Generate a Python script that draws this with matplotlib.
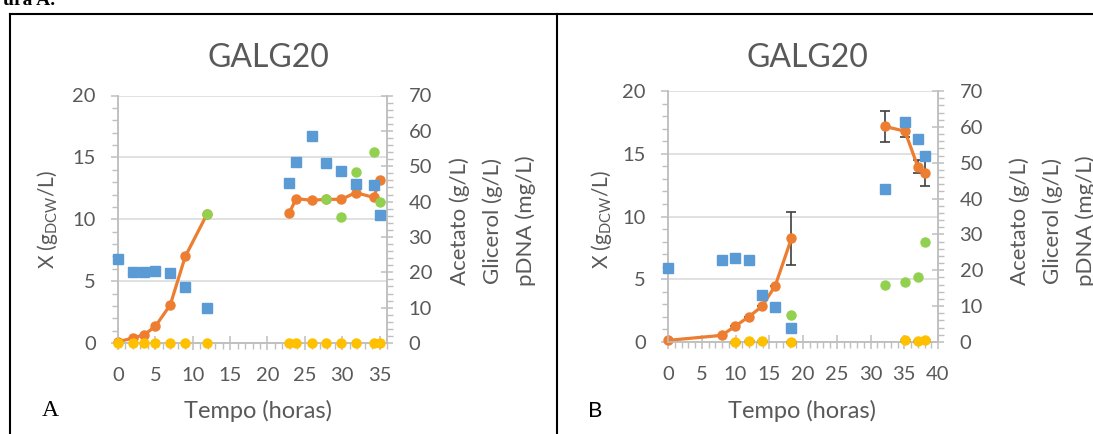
import matplotlib.pyplot as plt
from matplotlib.lines import Line2D
from matplotlib.ticker import MultipleLocator

# painel A
a_tempo = [0, 2.0, 3.5, 5.0, 7.0, 9.0, 11.9, 22.9, 23.85, 25.9, 27.8, 29.9, 31.8, 34.2, 35.1]
a_x = [0.1, 0.4, 0.67, 1.34, 3.09, 6.99, 10.4, 10.48, 11.67, 11.53, 11.61, 11.61, 12.15, 11.77, 13.2]
a_glicerol = [23.7, 20.0, 20.2, 20.5, 19.8, 15.8, 9.8, 45.3, 51.1, 58.5, 51.0, 48.6, 45.0, 44.6, 36.1]
a_acetato = [0, 0, 0, 0, 0, 0, 0, 0, 0, 0, 0, 0, 0, 0, 0]
a_pdna_t = [11.9, 27.8, 29.9, 31.8, 34.2, 35.1]
a_pdna = [36.4, 40.6, 35.5, 48.4, 53.9, 39.9]

# painel B
b_tempo = [0, 7.96, 9.92, 11.94, 13.95, 15.9, 18.29, 32.1, 35.1, 37.0, 38.0]
b_x = [0.13, 0.53, 1.25, 2.0, 2.85, 4.5, 8.26, 17.18, 16.8, 13.98, 13.5]
b_x_err = [0, 0, 0, 0, 0, 0, 2.1, 1.22, 0.5, 0.55, 1.07]
b_glicerol = [20.5, 22.8, 23.3, 22.8, 13.2, 9.9, 3.8, 42.7, 61.3, 56.5, 52.0]
b_acet_t = [9.92, 11.94, 13.95, 18.29, 35.1, 37.0, 38.0]
b_acetato = [0, 0.2, 0.2, 0, 0.56, 0.19, 0.65]
b_pdna_t = [18.29, 32.1, 35.1, 37.0, 38.0]
b_pdna = [7.46, 16.0, 16.6, 18.0, 27.9]

FONT = 'Lato'
GREY = '#595959'
AXC = '#bfbfbf'
BLUE = '#5b9bd5'
ORANGE = '#ed7d31'
GREEN = '#92d050'
GOLD = '#ffc000'
TICK_FS = 14.5

W, H = 1093, 434
plt.rcParams['font.family'] = FONT
fig = plt.figure(figsize=(W / 100, H / 100), dpi=100)


def px(x, y):
    return x / W, 1 - y / H


def style_axes(ax, ax2, xmax):
    ax.set_xlim(0, xmax)
    ax.set_ylim(0, 20)
    ax2.set_ylim(0, 70)
    ax.xaxis.set_major_locator(MultipleLocator(5))
    ax.xaxis.set_minor_locator(MultipleLocator(1))
    ax.yaxis.set_major_locator(MultipleLocator(5))
    ax.yaxis.set_minor_locator(MultipleLocator(1))
    ax2.yaxis.set_major_locator(MultipleLocator(10))
    ax2.yaxis.set_minor_locator(MultipleLocator(2))
    for a in (ax, ax2):
        for s in a.spines.values():
            s.set_color(AXC)
            s.set_linewidth(1.1)
        a.spines['top'].set_visible(False)
    ax.grid(axis='y', color='#d9d9d9', lw=1.1)
    ax.set_axisbelow(True)
    ax.tick_params(axis='x', which='major', direction='inout', length=10, width=1.1,
                   color=AXC, labelcolor=GREY, labelsize=TICK_FS, pad=12)
    ax.tick_params(axis='x', which='minor', direction='out', length=4, width=1.0, color=AXC)
    ax.tick_params(axis='y', which='major', direction='out', length=5, width=1.1,
                   color=AXC, labelcolor=GREY, labelsize=TICK_FS, pad=11)
    ax.tick_params(axis='y', which='minor', direction='out', length=4, width=1.0, color=AXC)
    ax2.tick_params(axis='y', which='major', direction='inout', length=9, width=1.1,
                    color=AXC, labelcolor=GREY, labelsize=TICK_FS, pad=11)
    ax2.tick_params(axis='y', which='minor', direction='out', length=4, width=1.0, color=AXC)


# ---------- A ----------
axA = fig.add_axes([118 / W, 1 - 343 / H, 269 / W, (343 - 95.5) / H])
axA2 = axA.twinx()
style_axes(axA, axA2, 36)
axA.plot(a_tempo[:7], a_x[:7], color=ORANGE, lw=2.3, marker='o', ms=6.5, zorder=3, clip_on=False)
axA.plot(a_tempo[7:], a_x[7:], color=ORANGE, lw=2.3, marker='o', ms=6.5, zorder=3, clip_on=False)
axA2.plot(a_tempo, a_glicerol, ls='none', marker='s', ms=7.2, color=BLUE, zorder=3, clip_on=False)
axA2.plot(a_pdna_t, a_pdna, ls='none', marker='o', ms=6.5, color=GREEN, zorder=4, clip_on=False)
axA2.plot(a_tempo, a_acetato, ls='none', marker='o', ms=6.5, color=GOLD, zorder=5, clip_on=False)

# ---------- B ----------
axB = fig.add_axes([668 / W, 1 - 342 / H, 270 / W, (342 - 91) / H])
axB2 = axB.twinx()
style_axes(axB, axB2, 40)
axB.errorbar(b_tempo, b_x, yerr=b_x_err, fmt='none', ecolor='#404040', elinewidth=1.2,
             capsize=3.5, capthick=1.2, zorder=2)
axB.plot(b_tempo[:7], b_x[:7], color=ORANGE, lw=2.3, marker='o', ms=6.5, zorder=3, clip_on=False)
axB.plot(b_tempo[7:], b_x[7:], color=ORANGE, lw=2.3, marker='o', ms=6.5, zorder=3, clip_on=False)
axB2.plot(b_tempo, b_glicerol, ls='none', marker='s', ms=7.2, color=BLUE, zorder=3, clip_on=False)
axB2.plot(b_pdna_t, b_pdna, ls='none', marker='o', ms=6.5, color=GREEN, zorder=4, clip_on=False)
axB2.errorbar(b_acet_t, b_acetato, yerr=0.3, fmt='none', ecolor='#404040', elinewidth=1.0,
              capsize=3.5, capthick=1.0, zorder=4, clip_on=False)
axB2.plot(b_acet_t, b_acetato, ls='none', marker='o', ms=6.5, color=GOLD, zorder=5, clip_on=False)

# textos
ylab = r'X (g$_{\mathregular{DCW}}$/L)'
right_labels = ['Acetato (g/L)', 'Glicerol (g/L)', 'pDNA (mg/L)']
for tx, yx, rxs, xlx in [(268, 48, [460, 493, 526], 258),
                         (807, 602, [1020, 1053, 1086], 802)]:
    fig.text(*px(tx, 58), 'GALG20', ha='center', va='center', fontsize=23, color=GREY)
    fig.text(*px(yx, 220), ylab, ha='center', va='center', rotation=90,
             fontsize=15, color=GREY)
    for rx, t in zip(rxs, right_labels):
        fig.text(*px(rx, 221), t, ha='center', va='center', rotation=90,
                 fontsize=16, color=GREY)
    fig.text(*px(xlx, 411), 'Tempo (horas)', ha='center', va='center',
             fontsize=17, color=GREY)

fig.text(*px(50, 411), 'A', ha='center', va='center', fontsize=17,
         family='Liberation Serif', color='black')
fig.text(*px(595, 411), 'B', ha='center', va='center', fontsize=16,
         family=FONT, color='black')
fig.text(*px(55, 5), 'ura A.', ha='right', va='baseline', fontsize=14,
         family='Liberation Serif', weight='bold', color='black')

# moldura da tabela
lw = 1.5
fig.add_artist(Line2D([10 / W, 1], [1 - 14 / H, 1 - 14 / H], color='black', lw=lw))
fig.add_artist(Line2D([10 / W, 10 / W], [0, 1 - 14 / H], color='black', lw=lw))
fig.add_artist(Line2D([557 / W, 557 / W], [0, 1 - 14 / H], color='black', lw=lw))

fig.savefig('out.png', dpi=100)
